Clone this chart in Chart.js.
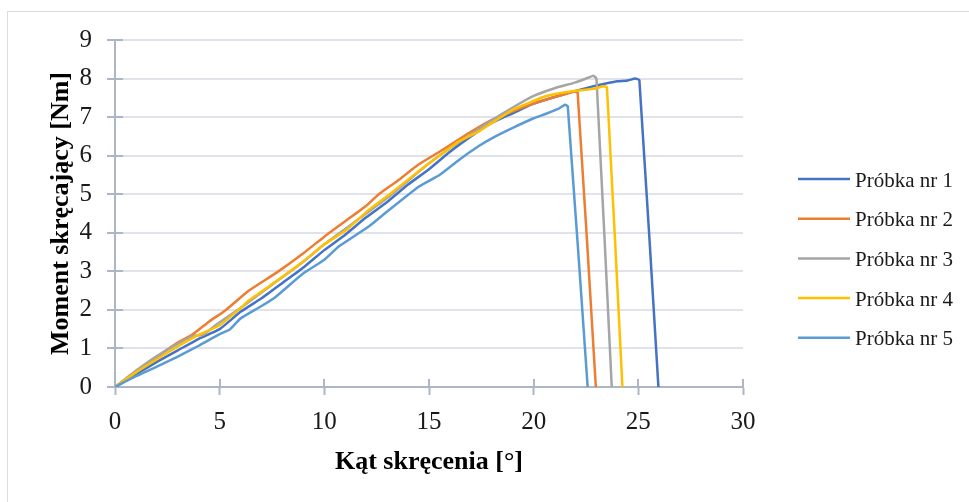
<!DOCTYPE html>
<html lang="pl">
<head>
<meta charset="utf-8">
<title>Moment skręcający – próbki</title>
<script src="https://cdn.jsdelivr.net/npm/chart.js@4/dist/chart.umd.min.js"></script>
<style>
  html, body { margin: 0; padding: 0; background: #ffffff; }
  #wrap { position: relative; width: 969px; height: 502px; overflow: hidden; }
  #frame { position: absolute; left: 7px; top: 11px; width: 1100px; height: 700px;
           border: 1px solid #D9DCE3; box-sizing: border-box; pointer-events: none; }
  canvas { position: absolute; left: 0; top: 0; }
</style>
</head>
<body>
<div id="wrap">
  <div id="frame"></div>
  <canvas id="chart" width="969" height="502"></canvas>
</div>
<script>
// Torque vs. twist angle for five specimens
const seriesLabels = ['Próbka nr 1', 'Próbka nr 2', 'Próbka nr 3', 'Próbka nr 4', 'Próbka nr 5'];
const seriesColors = ['#4472C4', '#ED7D31', '#A5A5A5', '#FFC000', '#5B9BD5'];

const xTicks = [0, 5, 10, 15, 20, 25, 30];
const yTicks = [0, 1, 2, 3, 4, 5, 6, 7, 8, 9];

// Próbka nr 1
const angle1  = [0, 1, 2, 3, 4, 5, 6, 7, 8, 9, 10, 11, 12, 13, 14, 15, 16, 17, 18, 19, 20, 21, 22, 23, 23.5, 24, 24.5, 24.85, 25.05, 25.96];
const moment1 = [0, 0.33, 0.65, 0.95, 1.25, 1.5, 1.95, 2.3, 2.7, 3.1, 3.55, 3.95, 4.4, 4.8, 5.25, 5.65, 6.1, 6.5, 6.85, 7.1, 7.35, 7.52, 7.68, 7.82, 7.88, 7.93, 7.95, 8.0, 7.96, 0];

// Próbka nr 2
const angle2  = [0, 1, 2, 3, 3.7, 4.5, 5.3, 6.4, 7.7, 9, 10, 11, 12, 12.6, 13.5, 14.5, 15.5, 16.4, 17, 18, 19, 20, 21, 21.9, 22.1, 22.97];
const moment2 = [0, 0.38, 0.78, 1.15, 1.36, 1.7, 2.0, 2.5, 2.96, 3.47, 3.9, 4.3, 4.7, 5.0, 5.35, 5.77, 6.1, 6.41, 6.62, 6.93, 7.15, 7.35, 7.52, 7.66, 7.64, 0];

// Próbka nr 3
const angle3  = [0, 1, 2, 3, 3.7, 4.2, 4.8, 6, 7, 8, 9, 10, 11, 12, 13, 14, 15, 16, 17, 18, 19, 20, 21, 22, 22.6, 22.85, 23.0, 23.73];
const moment3 = [0, 0.42, 0.8, 1.12, 1.32, 1.35, 1.6, 2.05, 2.45, 2.85, 3.25, 3.7, 4.1, 4.5, 4.9, 5.35, 5.8, 6.2, 6.55, 6.92, 7.25, 7.55, 7.75, 7.9, 8.02, 8.07, 8.0, 0];

// Próbka nr 4
const angle4  = [0, 1, 2, 3, 4, 5, 6, 6.43, 7.7, 9, 10, 11, 12.14, 13, 14.52, 15.5, 16.43, 17.38, 18, 19, 20, 20.56, 21.83, 22.94, 23.33, 23.5, 24.24];
const moment4 = [0, 0.38, 0.72, 1.05, 1.35, 1.6, 2.05, 2.26, 2.74, 3.26, 3.7, 4.05, 4.6, 4.95, 5.6, 6.0, 6.37, 6.63, 6.85, 7.19, 7.42, 7.54, 7.67, 7.74, 7.8, 7.78, 0];

// Próbka nr 5
const angle5  = [0, 1, 2, 3, 4, 5, 5.5, 6, 7, 7.7, 9, 10, 10.7, 12.14, 13, 14.52, 15.5, 16.43, 17.38, 18, 19, 20, 20.56, 21.2, 21.5, 21.63, 22.58];
const moment5 = [0, 0.28, 0.53, 0.79, 1.07, 1.37, 1.5, 1.78, 2.1, 2.35, 2.95, 3.3, 3.65, 4.17, 4.55, 5.2, 5.5, 5.89, 6.25, 6.45, 6.72, 6.97, 7.08, 7.22, 7.32, 7.28, 0];

const angles  = [angle1, angle2, angle3, angle4, angle5];
const moments = [moment1, moment2, moment3, moment4, moment5];

const AXIS_COLOR = '#ADB6C6';
const GRID_COLOR = '#E0E3E9';
const SERIF = '"Liberation Serif", "Times New Roman", serif';

const datasets = seriesLabels.map((label, i) => ({
  label,
  data: angles[i].map((a, k) => ({ x: a, y: moments[i][k] })),
  borderColor: seriesColors[i],
  backgroundColor: seriesColors[i],
  borderWidth: 2.5,
  pointRadius: 0,
  fill: false,
  tension: 0.15,
  order: seriesLabels.length - i
}));

// Tick marks that cross the axis lines (inner half)
const crossTicks = {
  id: 'crossTicks',
  beforeDatasetsDraw(chart) {
    const { ctx, chartArea, scales } = chart;
    ctx.save();
    ctx.strokeStyle = AXIS_COLOR;
    ctx.lineWidth = 2;
    ctx.beginPath();
    xTicks.forEach(v => {
      const px = Math.round(scales.x.getPixelForValue(v));
      ctx.moveTo(px, chartArea.bottom);
      ctx.lineTo(px, chartArea.bottom - 8);
    });
    yTicks.forEach(v => {
      const py = Math.round(scales.y.getPixelForValue(v));
      ctx.moveTo(chartArea.left, py);
      ctx.lineTo(chartArea.left + 8, py);
    });
    ctx.stroke();
    ctx.restore();
  }
};

// Legend on the right side
const sideLegend = {
  id: 'sideLegend',
  afterDraw(chart) {
    const { ctx } = chart;
    ctx.save();
    ctx.font = '21px ' + SERIF;
    ctx.textBaseline = 'alphabetic';
    ctx.textAlign = 'left';
    chart.data.datasets.forEach((ds, i) => {
      const y = 179 + i * 39.7;
      ctx.strokeStyle = ds.borderColor;
      ctx.lineWidth = 2.5;
      ctx.beginPath();
      ctx.moveTo(798, y);
      ctx.lineTo(850, y);
      ctx.stroke();
      ctx.fillStyle = '#1a1a1a';
      ctx.fillText(ds.label, 855, y + 7.5);
    });
    ctx.restore();
  }
};

new Chart(document.getElementById('chart'), {
  type: 'line',
  data: { datasets },
  plugins: [crossTicks, sideLegend],
  options: {
    responsive: false,
    animation: false,
    layout: { padding: { top: 40, right: 226, bottom: 0, left: 0 } },
    plugins: { legend: { display: false }, tooltip: { enabled: false } },
    scales: {
      x: {
        type: 'linear',
        min: 0, max: 30,
        afterFit(scale) { scale.height = 115; },
        afterBuildTicks(scale) { scale.ticks = xTicks.map(v => ({ value: v })); },
        ticks: { color: '#1a1a1a', padding: 12, font: { family: SERIF, size: 25 } },
        grid: { drawOnChartArea: false, drawTicks: true, tickLength: 8, tickColor: AXIS_COLOR, tickWidth: 2 },
        border: { display: true, color: AXIS_COLOR, width: 2 },
        title: {
          display: true, text: 'Kąt skręcenia [°]', color: '#000',
          font: { family: SERIF, size: 26, weight: 'bold' },
          padding: { top: 0, bottom: 24 }
        }
      },
      y: {
        type: 'linear',
        min: 0, max: 9,
        afterFit(scale) { scale.width = 115; },
        afterBuildTicks(scale) { scale.ticks = yTicks.map(v => ({ value: v })); },
        ticks: { color: '#1a1a1a', padding: 15, font: { family: SERIF, size: 25 } },
        grid: { color: GRID_COLOR, lineWidth: 2, drawTicks: true, tickLength: 8, tickColor: AXIS_COLOR, tickWidth: 2 },
        border: { display: true, color: AXIS_COLOR, width: 2 },
        title: {
          display: true, text: 'Moment skręcający [Nm]', color: '#000',
          font: { family: SERIF, size: 26, weight: 'bold' },
          padding: { top: 46, bottom: 0 }
        }
      }
    }
  }
});
</script>
</body>
</html>
